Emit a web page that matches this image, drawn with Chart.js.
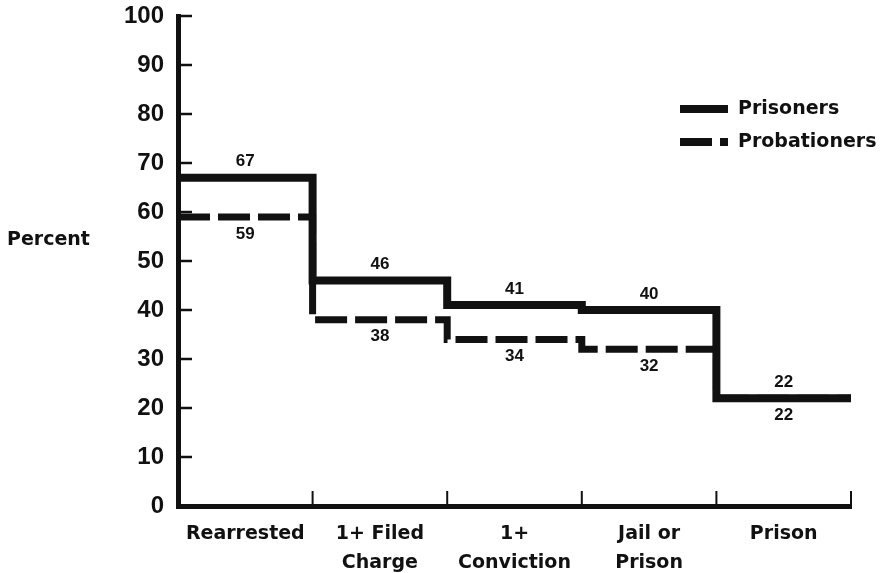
<!DOCTYPE html>
<html>
<head>
<meta charset="utf-8">
<script src="https://cdn.jsdelivr.net/npm/chart.js@4/dist/chart.umd.min.js"></script>
<style>
  html, body { margin: 0; padding: 0; background: #fff; }
  #wrap { width: 889px; height: 573px; }
</style>
</head>
<body>
<div id="wrap"><canvas id="chart" width="889" height="573"></canvas></div>
<script>
// categories along the bottom
const categories = [
  'Rearrested',
  ['1+ Filed', 'Charge'],
  ['1+', 'Conviction'],
  ['Jail or', 'Prison'],
  'Prison'
];
const seriesNames = ['Prisoners', 'Probationers'];
const prisoners = [67, 46, 41, 40, 22];
const probationers = [59, 38, 34, 32, 22];
const yTicks = [0, 10, 20, 30, 40, 50, 60, 70, 80, 90, 100];

const INK = '#111';
const wordFont = '"DejaVu Sans", sans-serif';
const digitFont = '"Liberation Sans", Arial, sans-serif';

// step points: one per category plus closing point at the right edge
function stepPoints(vals) {
  const pts = vals.map((v, i) => ({ x: i, y: v }));
  pts.push({ x: vals.length, y: vals[vals.length - 1] });
  return pts;
}

// inward ticks, value labels, "Percent" and the legend
const decorations = {
  id: 'decorations',
  afterDatasetsDraw(chart) {
    const { ctx, chartArea, scales } = chart;
    const xs = scales.x, ys = scales.y;
    ctx.save();
    ctx.strokeStyle = INK;
    ctx.lineCap = 'butt';

    // y ticks pointing into the plot
    ctx.lineWidth = 2.5;
    yTicks.forEach(t => {
      if (t === 0) return;
      const y = ys.getPixelForValue(t);
      ctx.beginPath();
      ctx.moveTo(chartArea.left, y);
      ctx.lineTo(chartArea.left + 14, y);
      ctx.stroke();
    });
    // category boundary ticks pointing up
    ctx.lineWidth = 2;
    for (let i = 1; i <= categories.length; i++) {
      const x = xs.getPixelForValue(i);
      ctx.beginPath();
      ctx.moveTo(x, chartArea.bottom);
      ctx.lineTo(x, chartArea.bottom - 15);
      ctx.stroke();
    }

    // value labels
    ctx.fillStyle = INK;
    ctx.textAlign = 'center';
    ctx.textBaseline = 'middle';
    ctx.font = 'bold 17px ' + digitFont;
    [prisoners, probationers].forEach((vals, k) => {
      vals.forEach((v, i) => {
        const x = xs.getPixelForValue(i + 0.5);
        const y = ys.getPixelForValue(v);
        ctx.fillText(String(v), x, k === 0 ? y - 16 : y + 17);
      });
    });

    // axis caption
    ctx.font = 'bold 19px ' + wordFont;
    ctx.textAlign = 'left';
    ctx.fillText('Percent', 7, 240);

    // legend
    const legY = [109, 142];
    chart.data.datasets.forEach((ds, k) => {
      ctx.lineWidth = 8;
      ctx.setLineDash(ds.borderDash || []);
      ctx.beginPath();
      ctx.moveTo(680, legY[k]);
      ctx.lineTo(728, legY[k]);
      ctx.stroke();
      ctx.setLineDash([]);
      ctx.fillText(ds.label, 738, legY[k]);
    });
    ctx.restore();
  }
};

new Chart(document.getElementById('chart'), {
  type: 'line',
  data: {
    datasets: [
      {
        label: seriesNames[0],
        data: stepPoints(prisoners),
        stepped: true,
        borderColor: INK,
        borderWidth: 8,
        pointRadius: 0,
        fill: false
      },
      {
        label: seriesNames[1],
        data: stepPoints(probationers),
        stepped: true,
        borderColor: INK,
        borderWidth: 7,
        borderDash: [32, 8],
        pointRadius: 0,
        fill: false
      }
    ]
  },
  options: {
    responsive: false,
    animation: false,
    devicePixelRatio: 1,
    layout: { padding: { top: 16, right: 38, left: 0, bottom: 0 } },
    plugins: {
      legend: { display: false },
      tooltip: { enabled: false }
    },
    scales: {
      x: {
        type: 'linear',
        min: 0,
        max: categories.length,
        afterFit(scale) {
          scale.height = 67;
          scale.paddingLeft = 0;
          scale.paddingRight = 0;
        },
        afterBuildTicks(scale) {
          const t = [];
          for (let i = 0; i <= categories.length * 2; i++) t.push({ value: i / 2 });
          scale.ticks = t;
        },
        grid: { display: false, drawTicks: false },
        border: { display: true, color: INK, width: 5 },
        ticks: {
          autoSkip: false,
          maxRotation: 0,
          padding: 14,
          color: INK,
          font: { family: wordFont, size: 19, weight: 'bold', lineHeight: 1.5 },
          callback(v) {
            return v % 1 === 0.5 ? categories[Math.floor(v)] : '';
          }
        }
      },
      y: {
        min: 0,
        max: 100,
        afterFit(scale) {
          scale.width = 178;
          scale.paddingTop = 0;
          scale.paddingBottom = 0;
        },
        afterBuildTicks(scale) { scale.ticks = yTicks.map(v => ({ value: v })); },
        grid: { display: false, drawTicks: false },
        border: { display: true, color: INK, width: 5 },
        ticks: {
          padding: 14,
          color: INK,
          font: { family: digitFont, size: 24, weight: 'bold' }
        }
      }
    }
  },
  plugins: [decorations]
});
</script>
</body>
</html>
